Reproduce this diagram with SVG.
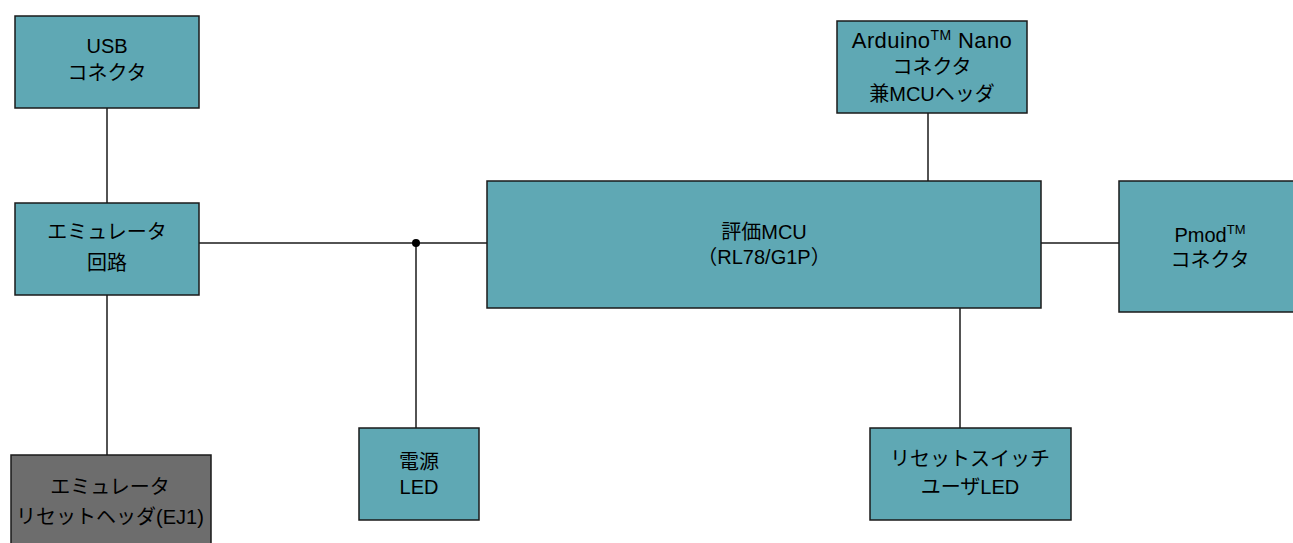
<svg xmlns="http://www.w3.org/2000/svg" width="1293" height="543" viewBox="0 0 1293 543">
<style>
.box{fill:#5fa8b4;stroke:#1a1a1a;stroke-width:1.5}
.gray{fill:#6d6d6d;stroke:#1a1a1a;stroke-width:1.5}
.t{font-family:"Liberation Sans","Noto Sans CJK JP",sans-serif;font-size:20px;fill:#000;text-anchor:middle}
.sup{font-size:13px}
.ln{stroke:#1a1a1a;stroke-width:1.5;fill:none}
</style>
<rect width="1293" height="543" fill="#fff"/>
<g id="connectors">
<line class="ln" x1="107" y1="108" x2="107" y2="203"/>
<line class="ln" x1="107" y1="295" x2="107" y2="455"/>
<line class="ln" x1="199" y1="243" x2="487" y2="243"/>
<line class="ln" x1="416" y1="243" x2="416" y2="428"/>
<circle cx="416" cy="243" r="4" fill="#000"/>
<line class="ln" x1="928" y1="113" x2="928" y2="181"/>
<line class="ln" x1="1041" y1="243" x2="1119" y2="243"/>
<line class="ln" x1="960" y1="308" x2="960" y2="428"/>
</g>
<g id="usb">
<rect class="box" x="15" y="16" width="184" height="92"/>
<text class="t" x="107" y="53">USB</text>
<text class="t" x="107" y="80">コネクタ</text>
</g>
<g id="emu">
<rect class="box" x="15" y="203" width="184" height="92"/>
<text class="t" x="107" y="239">エミュレータ</text>
<text class="t" x="107" y="270">回路</text>
</g>
<g id="ej1">
<rect class="gray" x="11" y="455" width="200" height="92"/>
<text class="t" x="110" y="494">エミュレータ</text>
<text class="t" x="110" y="524">リセットヘッダ(EJ1)</text>
</g>
<g id="arduino">
<rect class="box" x="837" y="21" width="190" height="92"/>
<text class="t" x="932" y="48" style="font-size:22px;letter-spacing:0.4px">Arduino<tspan style="font-size:14px" dy="-8">TM</tspan><tspan dy="8"> Nano</tspan></text>
<text class="t" x="932" y="74">コネクタ</text>
<text class="t" x="932" y="101">兼MCUヘッダ</text>
</g>
<g id="mcu">
<rect class="box" x="487" y="181" width="554" height="127"/>
<text class="t" x="764" y="239">評価MCU</text>
<text class="t" x="764" y="264">（RL78/G1P）</text>
</g>
<g id="pmod">
<rect class="box" x="1119" y="181" width="180" height="131"/>
<text class="t" x="1210" y="242">Pmod<tspan class="sup" dy="-8">TM</tspan></text>
<text class="t" x="1210" y="267">コネクタ</text>
</g>
<g id="power">
<rect class="box" x="359" y="428" width="120" height="92"/>
<text class="t" x="419" y="469">電源</text>
<text class="t" x="419" y="494">LED</text>
</g>
<g id="reset">
<rect class="box" x="870" y="428" width="201" height="92"/>
<text class="t" x="970" y="466">リセットスイッチ</text>
<text class="t" x="970" y="494">ユーザLED</text>
</g>
</svg>
